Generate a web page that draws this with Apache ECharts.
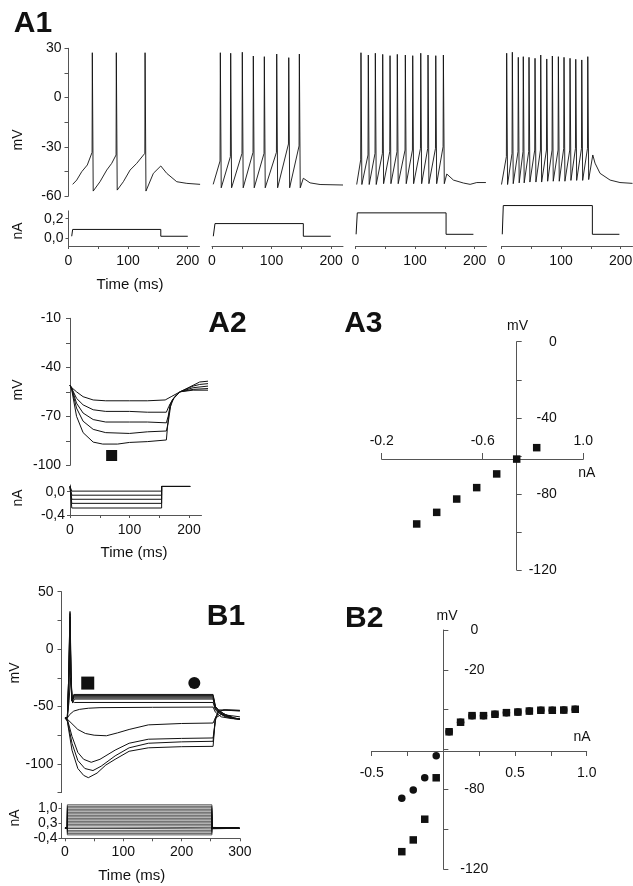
<!DOCTYPE html>
<html>
<head>
<meta charset="utf-8">
<title>A1-B2</title>
<script src="https://cdn.jsdelivr.net/npm/echarts@6.0.0/dist/echarts.min.js"></script>
<style>
html, body { margin: 0; padding: 0; background: #fff; }
#main { width: 633px; height: 886px; }
</style>
</head>
<body>
<div id="main"></div>
<script>
// ---------- A1 : spike trains, 4 current steps (ms, mV) ----------
var a1Trace1 = [[7,-52.9],[13.8,-50.3],[22.2,-45.2],[31.6,-41.1],[39.6,-33.4],[40,27.3],[41.5,-57],
  [52.9,-51.3],[64.2,-44.2],[72.6,-40.1],[79.9,-35],[80.3,27.3],[81.8,-56.4],
  [92.1,-51.3],[103.4,-44.2],[114.6,-40.1],[128.2,-34],[128.6,27.3],[130.1,-57],
  [142.5,-46.2],[155,-41.7],[165,-46.2],[181.8,-51.3],[198.7,-52.3],[221,-52.9]];

var a1Spikes2 = [14, 31.4, 50.9, 69.4, 87.9, 108.7, 128.9, 146.7];
var a1Peaks2  = [27.3, 27, 27.6, 25.3, 24.9, 26.5, 24.3, 26.5];
var a1Thr2    = [-38.7, -36, -34, -33.4, -34, -33.4, -28.3, -29.5];
var a1Low2    = [-55, -55, -55, -55, -55, -55, -55, -55];
var a1Head2   = [[2,-52.9],[5,-53]];
var a1Tail2   = [[153.4,-49.2],[164.7,-52],[181.5,-53],[220,-53.3]];

var a1Spikes3 = [9.2, 21.5, 33.3, 45.7, 58, 70.2, 83.7, 96.1, 109.6, 121.8, 134.8, 147.6];
var a1Peaks3  = [27.3, 25.9, 27, 26.3, 25.5, 26.3, 25.9, 25.5, 27, 25.9, 25.5, 25.9];
var a1Thr3    = [-38, -35, -34, -34, -33, -33, -32, -32, -31, -31, -31, -30];
var a1Low3    = [-53, -53, -53, -52.5, -52.5, -52.5, -52.5, -52.5, -52.5, -52.5, -52.5, -52.5];
var a1Head3   = [[2,-53],[4,-53]];
var a1Tail3   = [[153.3,-46.6],[164.5,-50.3],[181.3,-52.1],[192.5,-52.9],[203.7,-51.8],[219,-51.8]];

var a1Spikes4 = [8.7, 18.2, 28.2, 36.6, 46.2, 56.3, 65.9, 76, 85.4, 95.5, 105, 115.1, 124.7, 134.8, 144.9];
var a1Peaks4  = [27, 27.6, 24.5, 24.9, 24.5, 23.9, 25.9, 23.5, 25.3, 24.9, 24.5, 23.9, 23.3, 22.9, 24.9];
var a1Thr4    = [-36, -34, -33, -33, -33, -32, -32, -32, -32, -32, -31, -32, -31, -31, -31];
var a1Low4    = [-53, -52.5, -52, -52, -51.5, -51.5, -51.5, -51, -51, -51, -51, -50.5, -50.5, -50.5, -50];
var a1Head4   = [[0,-53],[3,-53]];
var a1Tail4   = [[153.3,-35],[157.1,-40],[165.5,-46.2],[182.4,-50.3],[199,-51.8],[220,-52.3]];

// current steps (ms, nA)
var a1StimStart = [5.4, 2.2, 1, 1.3];
var a1StimOn    = [7, 5, 3, 3];
var a1StimOff   = [155, 153.4, 152.1, 152.6];
var a1StimEnd   = [200.3, 199.5, 198, 198];
var a1StimLevel = [0.09, 0.15, 0.26, 0.335];
var a1StimBase  = [0.02, 0.02, 0.04, 0.04];

// ---------- A2 : hyperpolarising steps ----------
var a2Traces = [
  [[0,-51],[3,-52.5],[11,-55],[22,-58],[39,-60],[60,-60.5],[100,-60.5],[130,-60.5],[160,-60],[163,-60.5],[170,-58],[185,-55],[207,-54],[232,-54]],
  [[0,-51],[3,-53],[11,-59],[22,-63],[39,-66],[60,-67],[100,-67],[130,-67.5],[162,-67.5],[166,-64],[172,-60],[185,-55],[207,-53.5],[232,-53]],
  [[0,-51],[3,-53],[11,-62],[22,-68],[39,-72],[60,-73.5],[100,-73.5],[130,-73.5],[162,-74],[165,-70],[170,-62],[176,-58],[185,-55],[207,-52.5],[232,-51.5]],
  [[0,-51],[3,-53.5],[11,-65],[22,-73],[39,-78],[60,-80],[100,-80.5],[130,-79.5],[162,-79],[165,-74],[169,-64],[174,-59],[185,-55],[207,-51.5],[218,-50.5],[232,-50]],
  [[0,-51],[3,-54],[11,-70],[22,-80],[39,-85.8],[55,-87],[80,-87],[100,-86],[130,-85.5],[162,-84.5],[165,-72],[168,-63],[174,-59],[185,-55],[207,-51],[218,-49],[232,-48.5]]
];
var a2Marker = [[70, -94]];
var a2StimLevels = [0.01, -0.06, -0.13, -0.2, -0.28];
var a2Hold = 0.09, a2On = 3, a2Off = 154, a2End = 202;

// ---------- A3 : I-V ----------
var a3Current = [-0.5, -0.4, -0.3, -0.2, -0.1, 0, 0.1];
var a3Voltage = [-95.8, -89.7, -82.7, -76.7, -69.5, -61.7, -55.7];
var a3TickVals = [-0.675, -0.17, 0.333];
var a3TickLabels = ['-0.2', '-0.6', '1.0'];

// ---------- B1 : step family ----------
var b1Traces = [
  [[0,-60],[4,-60],[6,-30],[8.6,32.8],[10,-20],[12,-45],[15,-39.5],[254,-39.5],[258,-50],[265,-54],[275,-57],[290,-60],[300,-61]],
  [[0,-60],[4,-60],[6,-30],[8.6,31],[10,-20],[12,-45],[15,-40.5],[254,-40.5],[258,-50],[265,-54],[275,-57],[290,-60],[300,-61]],
  [[0,-60],[4,-60],[6,-30],[8.8,28],[10.2,-20],[12,-45],[15,-41.5],[254,-41.5],[258,-51],[265,-55],[275,-58],[290,-60],[300,-61]],
  [[0,-60],[4,-60],[6,-35],[9,24],[10.5,-25],[12.5,-46],[15,-42.5],[254,-42.5],[258,-51],[265,-55],[275,-58],[290,-60.5],[300,-61]],
  [[0,-60],[4,-60],[6.5,-40],[9,5],[11,-35],[13,-47],[16,-43.5],[254,-43.5],[258,-52],[265,-56],[275,-58.5],[290,-60.5],[300,-61]],
  [[0,-60],[4,-60],[7,-45],[9.5,-25],[12,-45],[16,-46.5],[254,-46.5],[258,-53],[265,-56],[275,-59],[290,-60.5],[300,-61]],
  [[0,-60],[4,-60],[8,-57],[15,-54],[25,-52.5],[40,-51.5],[60,-51],[150,-50.7],[254,-50.5],[258,-55],[268,-59],[285,-60.5],[300,-61]],
  [[0,-60],[4,-61],[12,-65],[22,-70],[35,-73.5],[50,-75],[71,-75.5],[90,-73],[110,-70],[143,-66],[200,-64.8],[254,-64.4],[258,-60],[268,-57],[285,-58],[300,-59]],
  [[0,-60],[4,-61],[12,-76],[22,-90],[32,-96],[45,-98.6],[60,-96],[86,-88],[110,-82],[143,-78.5],[200,-77.8],[254,-77.4],[258,-62],[263,-55],[272,-53],[285,-53.5],[300,-54]],
  [[0,-60],[4,-62],[12,-82],[22,-97],[34,-104],[48,-105.8],[62,-102],[86,-93],[110,-86],[143,-82],[200,-80.8],[254,-80.3],[258,-60],[264,-54],[275,-53],[300,-53.4]],
  [[0,-60],[4,-63],[12,-88],[22,-104],[32,-110],[40,-112],[55,-108],[70,-101],[86,-96],[110,-89],[143,-86],[200,-85],[254,-84.7],[258,-60],[264,-53],[280,-53],[300,-53.4]]
];
var b1Square = [[39, -29.6]];
var b1Circle = [[221.8, -29.6]];
var b1StimLevels = [-0.24, -0.17, -0.10, -0.03, 0.04, 0.11, 0.18, 0.25, 0.32, 0.39, 0.46, 0.53, 0.60, 0.67, 0.74, 0.81, 0.88, 0.95, 1.02, 1.09, 1.16];
var b1Hold = 0.07, b1On = 4, b1Off = 252, b1End = 299;

// ---------- B2 : I-V, peak (square) and steady state (circle) ----------
var b2Current = [-0.29, -0.21, -0.13, -0.05, 0.04, 0.12, 0.2, 0.28, 0.36, 0.44, 0.52, 0.6, 0.68, 0.76, 0.84, 0.92];
var b2Square  = [-111.3, -105.4, -95, -74.2, -51.1, -46.3, -43, -43, -42.3, -41.5, -41.2, -40.7, -40.3, -40.3, -40.2, -39.8];
var b2Circle  = [-84.5, -80.3, -74.2, -63.1, -51.1, -46.3, -43, -43, -42.3, -41.5, -41.2, -40.7, -40.3, -40.3, -40.2, -39.8];

// ================= layout =================
var FONT = 'Liberation Sans, Arial, Helvetica, sans-serif';
var AXC = '#555', INK = '#111';
var grids = [], xAxes = [], yAxes = [], series = [];

function fmtComma(v) { return v.toFixed(1).replace('.', ','); }

function ax(o) {
  o = o || {};
  var a = {
    type: 'value', min: o.min, max: o.max, position: o.pos, offset: o.offset || 0,
    show: !!o.show, splitLine: { show: false }, splitArea: { show: false },
    axisLine: { show: true, onZero: false, lineStyle: { color: AXC, width: 1 } },
    axisTick: { show: !!o.ticks, customValues: o.ticks, inside: !!o.inside, length: o.tl || 4,
      lineStyle: { color: AXC, width: 1 } },
    axisLabel: { show: !!o.labels, customValues: o.labels, inside: !!o.labIn,
      margin: o.margin == null ? 8 : o.margin, color: INK, fontSize: 14, fontFamily: FONT,
      formatter: o.fmt || function (v) { return String(v); } }
  };
  if (o.align) a.axisLabel.align = o.align;
  return a;
}

function panel(l, t, w, h, x, y) {
  grids.push({ left: l, top: t, width: w, height: h, containLabel: false, outerBoundsMode: 'none' });
  var g = grids.length - 1;
  x.gridIndex = g; y.gridIndex = g;
  xAxes.push(x); yAxes.push(y);
  return g;
}

function addLine(g, data, w) {
  series.push({ type: 'line', xAxisIndex: g, yAxisIndex: g, data: data, symbol: 'none', showSymbol: false,
    silent: true, animation: false, lineStyle: { color: INK, width: w || 1, opacity: 1 } });
}

function addDots(g, data, sym, size) {
  series.push({ type: 'scatter', xAxisIndex: g, yAxisIndex: g, data: data, symbol: sym, symbolSize: size,
    silent: true, animation: false, itemStyle: { color: INK, opacity: 1 } });
}

function spikeTrain(head, times, peaks, thr, low, tail) {
  var pts = head.slice();
  for (var i = 0; i < times.length; i++) {
    pts.push([times[i] - 0.5, thr[i]], [times[i], peaks[i]], [times[i] + 1.5, low[i]]);
  }
  return pts.concat(tail);
}

function stepTrace(t0, on, off, end, hold, level, after) {
  return [[t0, hold], [on, hold], [on, level], [off, level], [off, after], [end, after]];
}

// --- A1 ---
var a1Left = [68.5, 212, 355.5, 501.5];
var a1Volt = [
  a1Trace1,
  spikeTrain(a1Head2, a1Spikes2, a1Peaks2, a1Thr2, a1Low2, a1Tail2),
  spikeTrain(a1Head3, a1Spikes3, a1Peaks3, a1Thr3, a1Low3, a1Tail3),
  spikeTrain(a1Head4, a1Spikes4, a1Peaks4, a1Thr4, a1Low4, a1Tail4)
];
for (var k = 0; k < 4; k++) {
  var gv = panel(a1Left[k], 48.3, 131, 147.7,
    ax({ min: 0, max: 220 }),
    k === 0 ? ax({ show: true, min: -60, max: 30, ticks: [-60, -45, -30, -15, 0, 15, 30], labels: [-60, -30, 0, 30], margin: 7 })
            : ax({ min: -60, max: 30 }));
  addLine(gv, a1Volt[k], 0.9);
  var nTop = k === 0 ? 210.9 : 200.2, nHgt = k === 0 ? 35.1 : 45.8, nMax = k === 0 ? 0.28 : 0.39;
  var gi = panel(a1Left[k], nTop, 131, nHgt,
    ax({ show: true, pos: 'bottom', min: 0, max: 220, ticks: [0, 50, 100, 150, 200], labels: [0, 100, 200], tl: 3, margin: 8 }),
    k === 0 ? ax({ show: true, min: -0.08, max: nMax, ticks: [0, 0.2], labels: [0, 0.2], fmt: fmtComma, margin: 5, tl: 3 })
            : ax({ min: -0.08, max: nMax }));
  addLine(gi, stepTrace(a1StimStart[k], a1StimOn[k], a1StimOff[k], a1StimEnd[k], a1StimBase[k], a1StimLevel[k], a1StimBase[k]), 1);
}

// --- A2 ---
var g2v = panel(70, 318.3, 139.8, 147,
  ax({ min: 0, max: 235 }),
  ax({ show: true, min: -100, max: -10, ticks: [-100, -85, -70, -55, -40, -25, -10], labels: [-100, -70, -40, -10], margin: 9 }));
a2Traces.forEach(function (tr) { addLine(g2v, tr, 1); });
addDots(g2v, a2Marker, 'rect', 11);
var g2i = panel(70, 485, 131.5, 30,
  ax({ show: true, pos: 'bottom', min: 0, max: 221, ticks: [0, 50, 100, 150, 200], labels: [0, 100, 200], tl: 3, margin: 8 }),
  ax({ show: true, min: -0.4, max: 0.115, ticks: [-0.4, 0], labels: [-0.4, 0], fmt: fmtComma, margin: 5, tl: 3 }));
a2StimLevels.forEach(function (lv) { addLine(g2i, stepTrace(0, a2On, a2Off, a2End, a2Hold, lv, a2Hold), 1); });

// --- A3 ---
var g3 = panel(381.7, 341.7, 201.6, 228.3,
  ax({ show: true, pos: 'top', offset: -117.3, min: -0.675, max: 0.333, ticks: a3TickVals, labels: a3TickVals, tl: 6, margin: 11,
       fmt: function (v) { var b = 0; a3TickVals.forEach(function (t, i) { if (Math.abs(t - v) < Math.abs(a3TickVals[b] - v)) b = i; }); return a3TickLabels[b]; } }),
  ax({ show: true, pos: 'left', offset: -135, min: -120, max: 0, ticks: [0, -20, -40, -60, -80, -100, -120], labels: [0, -40, -80, -120],
       inside: true, labIn: true, margin: 40, align: 'right', tl: 5 }));
addDots(g3, a3Current.map(function (c, i) { return [c, a3Voltage[i]]; }), 'rect', 7.5);

// --- B1 ---
var gb1 = panel(61.5, 591.7, 178.4, 200.9,
  ax({ min: -6, max: 300 }),
  ax({ show: true, min: -125, max: 50, ticks: [-125, -100, -75, -50, -25, 0, 25, 50], labels: [-100, -50, 0, 50], margin: 8 }));
b1Traces.forEach(function (tr) { addLine(gb1, tr, 1); });
addDots(gb1, b1Square, 'rect', 13);
addDots(gb1, b1Circle, 'circle', 12);
var gb1i = panel(61.5, 803.3, 178.4, 35,
  ax({ show: true, pos: 'bottom', min: -6, max: 300, ticks: [0, 50, 100, 150, 200, 250, 300], labels: [0, 100, 200, 300], tl: 3, margin: 7 }),
  ax({ show: true, min: -0.4, max: 1.23, ticks: [-0.4, 0.3, 1.0], labels: [-0.4, 0.3, 1.0], fmt: fmtComma, margin: 4, tl: 3 }));
b1StimLevels.forEach(function (lv) { addLine(gb1i, stepTrace(0, b1On, b1Off, b1End, b1Hold, lv, b1Hold), 0.7); });

// --- B2 ---
var gb2 = panel(371.7, 630, 215, 239,
  ax({ show: true, pos: 'bottom', offset: -118, min: -0.5, max: 1.0, ticks: [-0.5, -0.25, 0, 0.25, 0.5, 0.75, 1.0], labels: [-0.5, 0.5, 1.0],
       tl: 5, margin: 15, fmt: function (v) { return v.toFixed(1); } }),
  ax({ show: true, pos: 'left', offset: -71.65, min: -120, max: 0, ticks: [0, -20, -40, -60, -80, -100, -120], labels: [0, -20, -80, -120],
       inside: true, labIn: true, margin: 31, align: 'center', tl: 5 }));
addDots(gb2, b2Current.map(function (c, i) { return [c, b2Square[i]]; }), 'rect', 7.5);
addDots(gb2, b2Current.map(function (c, i) { return [c, b2Circle[i]]; }), 'circle', 7.5);

// --- text ---
function txt(x, y, s, size, bold, rot) {
  return { type: 'text', x: x, y: y, rotation: rot || 0, silent: true, z: 10,
    style: { text: s, fill: INK, fontSize: size, fontFamily: FONT, fontWeight: bold ? 'bold' : 'normal',
      align: 'center', verticalAlign: 'middle', textAlign: 'center', textVerticalAlign: 'middle' } };
}
var R = Math.PI / 2;
var graphics = [
  txt(33, 23.5, 'A1', 30, true), txt(227.5, 323.5, 'A2', 30, true), txt(363.3, 323.5, 'A3', 30, true),
  txt(226, 617, 'B1', 30, true), txt(364.2, 618.5, 'B2', 30, true),
  txt(18, 140, 'mV', 14, false, R), txt(18, 231, 'nA', 14, false, R), txt(130, 285, 'Time (ms)', 15),
  txt(18, 390, 'mV', 14, false, R), txt(18, 498, 'nA', 14, false, R), txt(134, 553, 'Time (ms)', 15),
  txt(517.5, 326, 'mV', 14), txt(586.7, 473, 'nA', 14),
  txt(15, 673, 'mV', 14, false, R), txt(15, 818, 'nA', 14, false, R), txt(131.7, 876, 'Time (ms)', 15),
  txt(447, 616, 'mV', 14), txt(582, 737, 'nA', 14)
];

var chart = echarts.init(document.getElementById('main'), null, { renderer: 'canvas' });
chart.setOption({
  animation: false,
  backgroundColor: '#fff',
  textStyle: { fontFamily: FONT },
  grid: grids,
  xAxis: xAxes,
  yAxis: yAxes,
  series: series,
  graphic: graphics
});
</script>
</body>
</html>
